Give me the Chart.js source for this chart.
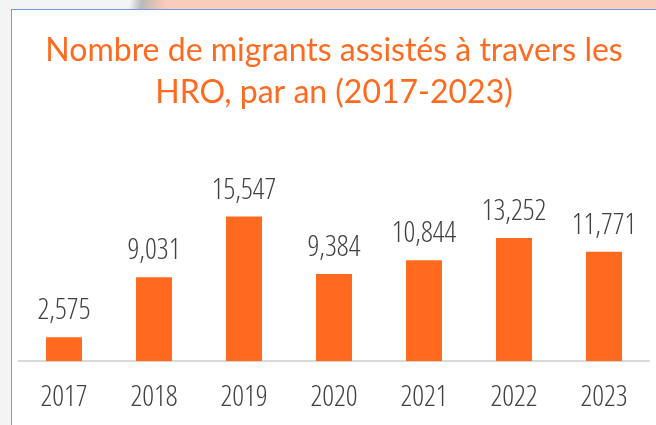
<!DOCTYPE html>
<html><head><meta charset="utf-8">
<script src="https://cdn.jsdelivr.net/npm/chart.js@4/dist/chart.umd.min.js"></script>
<style>
html,body{margin:0;padding:0;width:656px;height:425px;overflow:hidden;background:#f4f4f4;}
#band{position:absolute;left:0;top:0;width:656px;height:10px;background:linear-gradient(100deg,#f4f4f4 0px,#f4f4f4 128px,#b9b9b9 140px,#e8c3b2 155px,#f9cdb9 165px,#f9cdb9 100%);}
#frame{position:absolute;left:11px;top:9px;width:660px;height:430px;border:1.5px solid #6f9be0;background:#fff;}
#c{position:absolute;left:0;top:0;}
</style></head>
<body>
<div id="band"></div><div id="frame"></div>
<canvas id="c" width="656" height="445"></canvas>
<script>
const categories = ['2017','2018','2019','2020','2021','2022','2023'];
const migrants = [2575, 9031, 15547, 9384, 10844, 13252, 11771];
const titleLines = ['Nombre de migrants assistés à travers les', 'HRO, par an (2017-2023)'];

const numFamily = "'Open Sans', sans-serif";
const numWeight = '350 condensed';

const labelPlugin = {
  id: 'valueLabels',
  afterDatasetsDraw(chart) {
    const ctx = chart.ctx;
    const meta = chart.getDatasetMeta(0);
    ctx.save();
    ctx.font = numWeight + ' 29px ' + numFamily;
    ctx.fillStyle = '#404040';
    ctx.textAlign = 'center';
    ctx.textBaseline = 'alphabetic';
    meta.data.forEach((el, i) => {
      ctx.fillText(migrants[i].toLocaleString('en-US'), el.x, el.y - 18);
    });
    ctx.restore();
  }
};

new Chart(document.getElementById('c'), {
  type: 'bar',
  data: {
    labels: categories,
    datasets: [{
      data: migrants,
      backgroundColor: '#ff6a1f',
      borderWidth: 0,
      categoryPercentage: 0.8,
      barPercentage: 0.5
    }]
  },
  options: {
    responsive: false,
    animation: false,
    layout: { padding: { left: 19, right: 7, top: 0, bottom: 11 } },
    plugins: {
      legend: { display: false },
      tooltip: { enabled: false },
      title: {
        display: true,
        text: titleLines,
        color: '#ff6a1f',
        font: { family: 'Lato', size: 32, weight: 'normal', lineHeight: 1.3 },
        padding: { top: 30, bottom: 62 }
      }
    },
    scales: {
      x: {
        grid: { display: false, drawTicks: false },
        border: { display: true, color: '#d9d9d9', width: 2 },
        ticks: { color: '#404040', padding: 19, font: { family: numFamily, weight: numWeight, size: 29, lineHeight: 1.2 } }
      },
      y: { display: false, min: 0, max: 20000 }
    }
  },
  plugins: [labelPlugin]
});
</script>
</body></html>
